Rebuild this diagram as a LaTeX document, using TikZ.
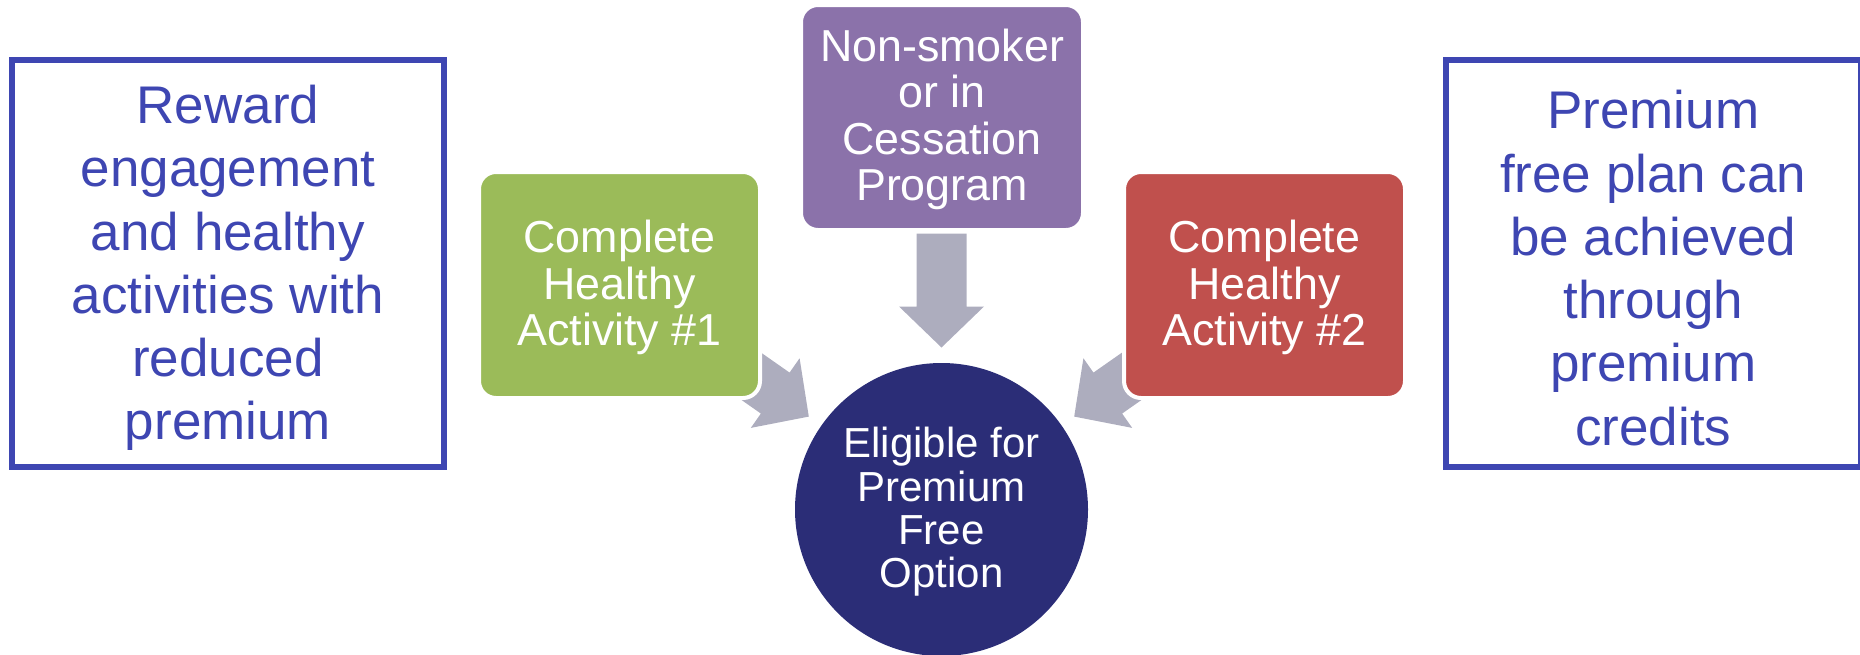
\documentclass[tikz,border=0pt]{standalone}
\usepackage{fontspec}
\setmainfont{Liberation Sans}
\usetikzlibrary{calc}
\definecolor{frameblue}{HTML}{3E46B2}
\definecolor{stepgreen}{HTML}{9BBB59}
\definecolor{steppurple}{HTML}{8B72AA}
\definecolor{stepred}{HTML}{C0504D}
\definecolor{arrowgrey}{HTML}{ADADBE}
\definecolor{goalnavy}{HTML}{2B2D77}

\begin{document}
\begin{tikzpicture}[x=1pt,y=-1pt,
  notebox/.style={draw=frameblue, line width=5.7pt, inner sep=0pt,
    minimum width=432.4pt, minimum height=407.4pt},
  notetext/.style={text=frameblue, align=center, inner sep=0pt,
    font=\fontsize{53}{63.3}\selectfont},
  stepbox/.style={draw=white, line width=4pt, rounded corners=17pt, inner sep=0pt,
    minimum width=281pt, minimum height=226pt},
  steptext/.style={text=white, align=center, inner sep=0pt,
    font=\fontsize{44.8}{46.6}\selectfont},
  goal/.style={circle, fill=goalnavy, inner sep=0pt, minimum size=293pt},
  goaltext/.style={text=white, align=center, inner sep=0pt,
    font=\fontsize{42}{43.3}\selectfont},
  blockarrow/.pic={\fill[arrowgrey] (-114,-25) -- (-41,-25) -- (-41,-42.5) -- (0,0)
    -- (-41,42.5) -- (-41,25) -- (-114,25) -- cycle;}
]
\useasboundingbox (0,0) rectangle (1860,654);

% central goal
\node[goal] (goal) at (941.5,509.5) {};
\node[goaltext] (goaltxt) at ([yshift=-2.3pt]goal.center)
  {Eligible for\\Premium\\Free\\Option};

% block arrows converging on the goal (drawn beneath the step boxes)
\coordinate (tipL) at ($(goal.center)+(-145:162)$);
\coordinate (tipT) at ($(goal.center)+(-90:162)$);
\coordinate (tipR) at ($(goal.center)+(-35:162)$);
\pic[rotate=-35]  at (tipL) {blockarrow};
\pic[rotate=-90]  at (tipT) {blockarrow};
\pic[rotate=-145] at (tipR) {blockarrow};

% the three qualifying steps
\node[stepbox, fill=stepgreen] (act1) at (619.5,285) {};
\node[steptext] (act1txt) at ([yshift=-2.5pt]act1.center)
  {Complete\\Healthy\\Activity \#1};
\node[stepbox, fill=stepred] (act2) at (1264.5,285) {};
\node[steptext] (act2txt) at ([yshift=-2.5pt]act2.center)
  {Complete\\Healthy\\Activity \#2};
\node[stepbox, fill=steppurple, minimum width=282pt, minimum height=225pt] (smoke)
  at (942,117.5) {};
\node[steptext] (smoketxt) at ([yshift=-2pt]smoke.center)
  {Non-smoker\\or in\\Cessation\\Program};

% side notes
\node[notebox] (reward) at (228,263.5) {};
\node[notetext] (rewardtxt) at ([yshift=-4.5pt]reward.center)
  {Reward\\engagement\\and healthy\\activities with\\reduced\\premium};
\node[notebox, minimum width=414.7pt] (credits) at (1653.2,263.5) {};
\node[notetext] (creditstxt) at ([yshift=-4.5pt]credits.center)
  {Premium\\free plan can\\be achieved\\through\\premium\\credits};
\end{tikzpicture}
\end{document}
